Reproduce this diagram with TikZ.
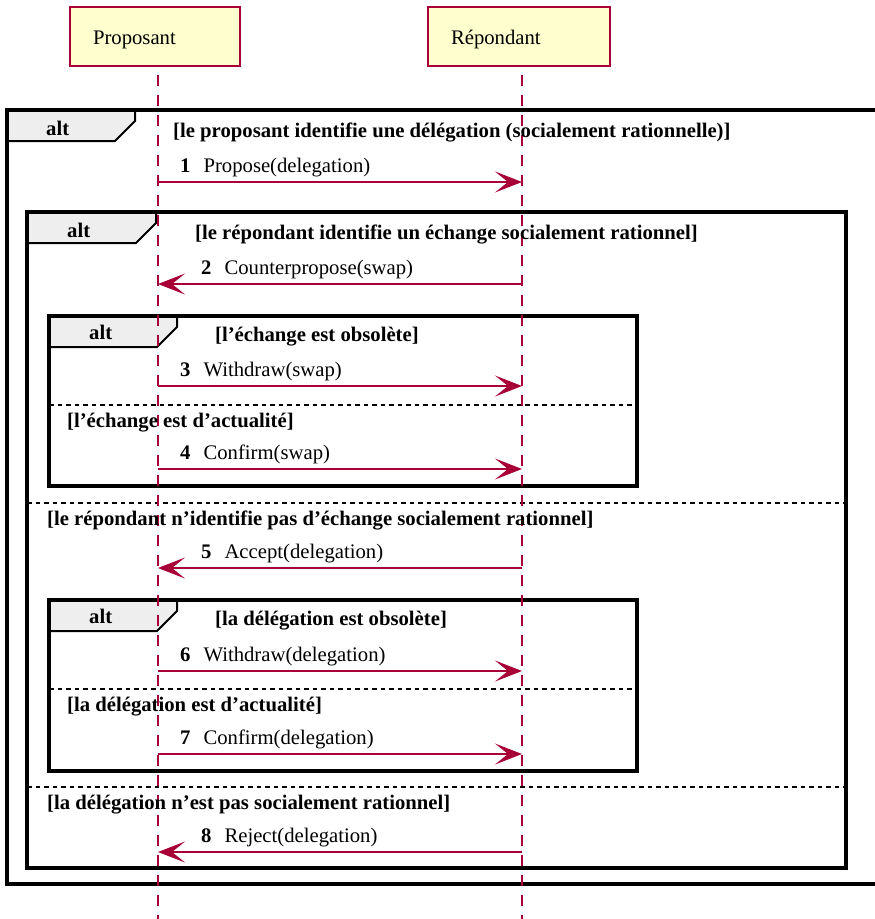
\documentclass[tikz,border=0pt]{standalone}
\usepackage{fontspec}
\setmainfont{Liberation Serif}
\usetikzlibrary{arrows.meta}
\definecolor{SeqRed}{RGB}{168,0,54}
\definecolor{BoxYellow}{RGB}{254,254,206}
\definecolor{TabGray}{RGB}{238,238,238}
\newcommand{\seqfont}{\fontsize{20.7pt}{24pt}\selectfont}
\tikzset{
  actor/.style={draw=SeqRed,fill=BoxYellow,line width=2pt,anchor=north west,
    inner xsep=23pt,align=left,minimum height=59pt,text height=15pt,text depth=0pt,font=\seqfont},
  lifeline/.style={draw=SeqRed,line width=1.8pt,dash pattern=on 11pt off 9pt},
  msg/.style={draw=SeqRed,line width=1.7pt,-{Stealth[length=27pt,width=21pt,inset=13pt]}},
  frame/.style={draw=black,line width=3.5pt},
  tab/.style={draw=black,fill=TabGray,line width=2pt},
  sep/.style={draw=black,line width=1.8pt,dash pattern=on 4.5pt off 4pt},
}
\tikzset{lab/.style={anchor=base west,inner sep=0pt,font=\seqfont},
  guard/.style={anchor=base west,inner sep=0pt,font=\seqfont\bfseries}}

\begin{document}
\begin{tikzpicture}[x=1pt,y=-1pt]
\useasboundingbox (0,0) rectangle (875,919);
\clip (0,0) rectangle (875,919);
% participants
\node[actor,text width=124pt] (prop) at (69,6) {Proposant};
\node[actor,text width=136pt] (rep) at (427,6) {Répondant};
% alt tabs
\draw[tab] (7,110) -- (135,110) -- (135,121) -- (115,141) -- (7,141) -- cycle;
\draw[tab] (27,212) -- (156,212) -- (156,223) -- (136,243) -- (27,243) -- cycle;
\draw[tab] (49,316) -- (177,316) -- (177,327) -- (157,347) -- (49,347) -- cycle;
\draw[tab] (49,600) -- (177,600) -- (177,611) -- (157,631) -- (49,631) -- cycle;
% alt frames
\draw[frame] (7,110) rectangle (880,884);
\draw[frame] (27,212) rectangle (846,868);
\draw[frame] (49,316) rectangle (637,486);
\draw[frame] (49,600) rectangle (637,771);
\draw[sep] (49,405) -- (637,405);
\draw[sep] (27,503) -- (846,503);
\draw[sep] (49,689) -- (637,689);
\draw[sep] (27,787) -- (846,787);
% lifelines
\coordinate (ptop) at (158,75);
\coordinate (pbot) at (158,919);
\coordinate (rtop) at (522,75);
\coordinate (rbot) at (522,919);
\draw[lifeline] (ptop) -- (pbot);
\draw[lifeline] (rtop) -- (rbot);
% frame labels and guards
\node[guard] (alt1) at (46,135) {alt};
\node[guard] (alt2) at (67,237) {alt};
\node[guard] (alt3) at (89,339) {alt};
\node[guard] (alt4) at (89,623) {alt};
\node[guard] (g1) at (173,137) {[le proposant identifie une délégation (socialement rationnelle)]};
\node[guard] (g2) at (195,239) {[le répondant identifie un échange socialement rationnel]};
\node[guard] (g3) at (215,341) {[l’échange est obsolète]};
\node[guard] (g4) at (67,427) {[l’échange est d’actualité]};
\node[guard] (g5) at (47,525) {[le répondant n’identifie pas d’échange socialement rationnel]};
\node[guard] (g6) at (215,625) {[la délégation est obsolète]};
\node[guard] (g7) at (67,711) {[la délégation est d’actualité]};
\node[guard] (g8) at (47,809) {[la délégation n’est pas socialement rationnel]};
% messages
\foreach \i/\y in {1/182,2/284,3/386,4/469,5/568,6/671,7/754,8/852}{
  \coordinate (p\i) at (158,\y);
  \coordinate (r\i) at (522,\y);
}
\draw[msg] (p1) -- (r1);
\draw[msg] (r2) -- (p2);
\draw[msg] (p3) -- (r3);
\draw[msg] (p4) -- (r4);
\draw[msg] (r5) -- (p5);
\draw[msg] (p6) -- (r6);
\draw[msg] (p7) -- (r7);
\draw[msg] (r8) -- (p8);
\node[lab] (m1) at (180,172) {\textbf{1}\hspace{13pt}Propose(delegation)};
\node[lab] (m2) at (201,274) {\textbf{2}\hspace{13pt}Counterpropose(swap)};
\node[lab] (m3) at (180,376) {\textbf{3}\hspace{13pt}Withdraw(swap)};
\node[lab] (m4) at (180,459) {\textbf{4}\hspace{13pt}Confirm(swap)};
\node[lab] (m5) at (201,558) {\textbf{5}\hspace{13pt}Accept(delegation)};
\node[lab] (m6) at (180,661) {\textbf{6}\hspace{13pt}Withdraw(delegation)};
\node[lab] (m7) at (180,744) {\textbf{7}\hspace{13pt}Confirm(delegation)};
\node[lab] (m8) at (201,842) {\textbf{8}\hspace{13pt}Reject(delegation)};
\end{tikzpicture}
\end{document}
